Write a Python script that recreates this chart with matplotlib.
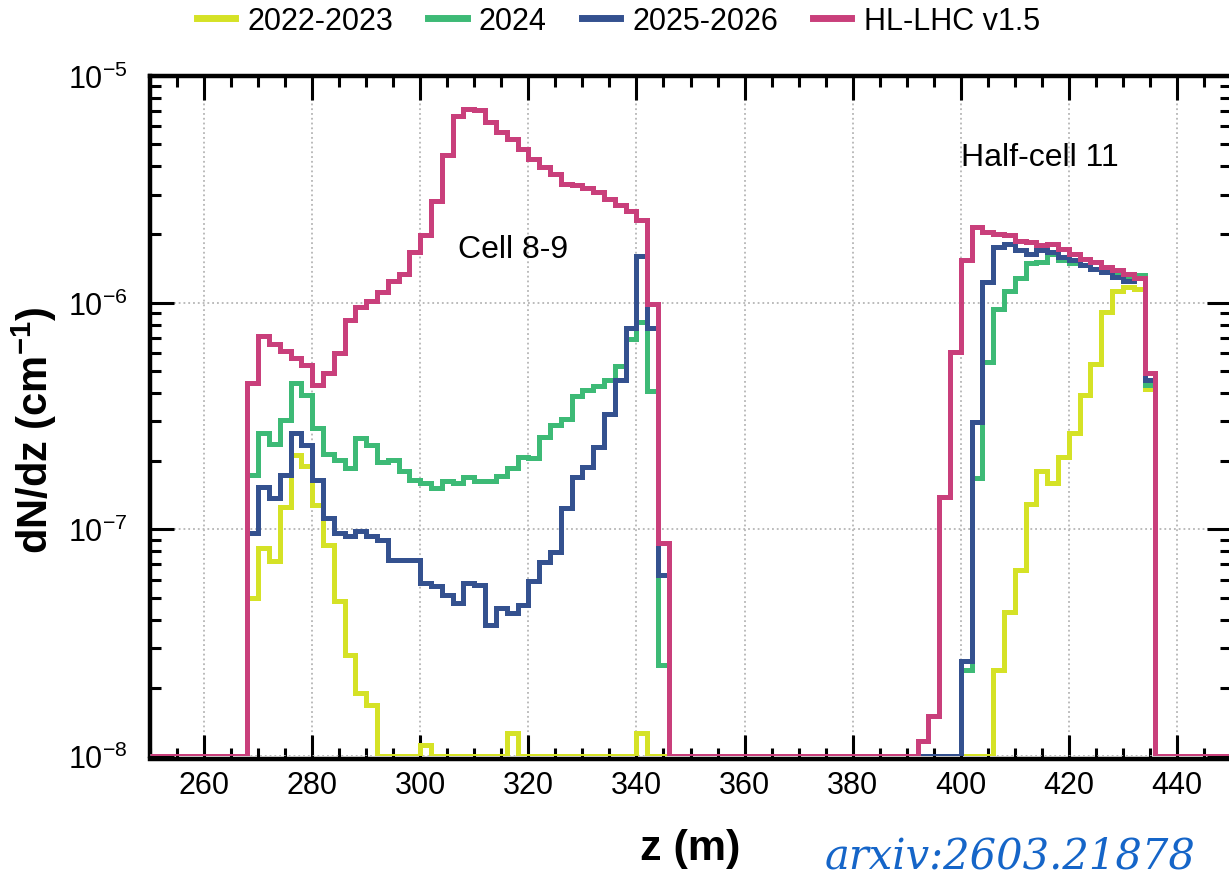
import numpy as np
import matplotlib
matplotlib.use("Agg")
import matplotlib.pyplot as plt
from matplotlib.ticker import MultipleLocator, LogLocator, NullFormatter

plt.rcParams['font.family'] = ['Liberation Sans', 'DejaVu Sans']
plt.rcParams['mathtext.fontset'] = 'custom'
plt.rcParams['mathtext.rm'] = 'Liberation Sans'
plt.rcParams['mathtext.bf'] = 'Liberation Sans:bold'

# histogram binning (2 m bins), empty bins are 0
bin_width = 2
z_lo, z_hi = 250, 450
y_floor = 1e-8

# values read per bin, first list starts at bin 268 m, second at the given start
left_start = 268
yellow_left = [4.97e-8, 8.25e-8, 7.22e-8, 1.26e-7, 2.12e-7, 1.91e-7, 1.28e-7, 8.5e-8,
               4.82e-8, 2.79e-8, 1.90e-8, 1.68e-8, 0, 0, 0, 0, 1.12e-8, 0, 0, 0, 0, 0,
               0, 0, 1.26e-8, 0, 0, 0, 0, 0, 0, 0, 0, 0, 0, 0, 1.26e-8, 0, 0]
green_left = [1.73e-7, 2.65e-7, 2.39e-7, 3.03e-7, 4.40e-7, 3.91e-7, 2.79e-7, 2.16e-7,
              2.02e-7, 1.86e-7, 2.52e-7, 2.35e-7, 1.99e-7, 2.02e-7, 1.80e-7, 1.65e-7,
              1.60e-7, 1.52e-7, 1.64e-7, 1.60e-7, 1.71e-7, 1.63e-7, 1.63e-7, 1.72e-7,
              1.86e-7, 2.09e-7, 2.06e-7, 2.56e-7, 2.88e-7, 3.08e-7, 3.87e-7, 4.11e-7,
              4.28e-7, 4.56e-7, 5.27e-7, 6.94e-7, 8.24e-7, 4.07e-7, 2.52e-8]
blue_left = [9.6e-8, 1.54e-7, 1.37e-7, 1.73e-7, 2.65e-7, 2.35e-7, 1.65e-7, 1.12e-7,
             9.6e-8, 9.3e-8, 9.8e-8, 9.3e-8, 8.97e-8, 7.33e-8, 7.33e-8, 7.33e-8,
             5.78e-8, 5.61e-8, 5.14e-8, 4.72e-8, 5.78e-8, 5.69e-8, 3.79e-8, 4.49e-8,
             4.27e-8, 4.65e-8, 5.89e-8, 7.21e-8, 7.98e-8, 1.24e-7, 1.71e-7, 1.89e-7,
             2.30e-7, 3.24e-7, 4.56e-7, 7.76e-7, 1.60e-6, 7.76e-7, 6.3e-8]
pink_left = [4.4e-7, 7.1e-7, 6.6e-7, 6.1e-7, 5.7e-7, 5.3e-7, 4.35e-7, 4.9e-7,
             6.0e-7, 8.4e-7, 9.6e-7, 1.02e-6, 1.11e-6, 1.24e-6, 1.34e-6, 1.67e-6,
             1.98e-6, 2.82e-6, 4.46e-6, 6.68e-6, 7.16e-6, 7.08e-6, 6.25e-6, 5.65e-6,
             5.27e-6, 4.77e-6, 4.31e-6, 3.96e-6, 3.70e-6, 3.34e-6, 3.29e-6, 3.20e-6,
             3.08e-6, 2.87e-6, 2.69e-6, 2.55e-6, 2.31e-6, 9.9e-7, 8.7e-8]

yellow_right_start = 406
yellow_right = [2.40e-8, 4.34e-8, 6.62e-8, 1.30e-7, 1.80e-7, 1.60e-7, 2.09e-7, 2.67e-7,
                3.91e-7, 5.38e-7, 9.1e-7, 1.13e-6, 1.17e-6, 1.15e-6, 4.18e-7]
green_right_start = 400
green_right = [2.40e-8, 1.68e-7, 5.48e-7, 9.41e-7, 1.13e-6, 1.28e-6, 1.49e-6, 1.51e-6,
               1.64e-6, 1.54e-6, 1.49e-6, 1.46e-6, 1.41e-6, 1.36e-6, 1.34e-6, 1.30e-6,
               1.32e-6, 4.32e-7]
blue_right_start = 400
blue_right = [2.62e-8, 2.98e-7, 1.23e-6, 1.76e-6, 1.82e-6, 1.70e-6, 1.64e-6, 1.70e-6,
              1.67e-6, 1.59e-6, 1.54e-6, 1.46e-6, 1.41e-6, 1.36e-6, 1.30e-6, 1.25e-6,
              1.28e-6, 4.55e-7]
pink_right_start = 392
pink_right = [1.16e-8, 1.5e-8, 1.39e-7, 6.07e-7, 1.54e-6, 2.16e-6, 2.05e-6, 2.01e-6,
              1.98e-6, 1.88e-6, 1.85e-6, 1.79e-6, 1.82e-6, 1.73e-6, 1.64e-6, 1.56e-6,
              1.51e-6, 1.44e-6, 1.39e-6, 1.34e-6, 1.28e-6, 4.87e-7]

labels = ['2022-2023', '2024', '2025-2026', 'HL-LHC v1.5']
colors = ['#d5e226', '#3dba76', '#34518f', '#c93f7b']

edges = np.arange(z_lo, z_hi + bin_width, bin_width)


def build(segments):
    v = np.zeros(len(edges) - 1)
    for start, vals in segments:
        i = (start - z_lo) // bin_width
        v[i:i + len(vals)] = vals
    return v


series = [
    build([(left_start, yellow_left), (yellow_right_start, yellow_right)]),
    build([(left_start, green_left), (green_right_start, green_right)]),
    build([(left_start, blue_left), (blue_right_start, blue_right)]),
    build([(left_start, pink_left), (pink_right_start, pink_right)]),
]

fig = plt.figure(figsize=(12.29, 8.79), dpi=100)
ax = fig.add_axes([150 / 1229, 1 - 757 / 879, 1081 / 1229, 680 / 879])

for vals, lab, col in zip(series, labels, colors):
    ax.stairs(np.maximum(vals, y_floor), edges, baseline=None,
              color=col, lw=3.6, label=lab, zorder=3)

ax.set_yscale('log')
ax.set_xlim(z_lo, z_hi)
ax.set_ylim(1e-8, 1e-5)

ax.xaxis.set_major_locator(MultipleLocator(20))
ax.xaxis.set_minor_locator(MultipleLocator(5))
ax.yaxis.set_major_locator(LogLocator(base=10))
ax.yaxis.set_minor_locator(LogLocator(base=10, subs=np.arange(2, 10)))
ax.yaxis.set_minor_formatter(NullFormatter())

ax.grid(True, which='major', color='#b5b5b5', linestyle=':', linewidth=1.3, zorder=0)
ax.tick_params(which='both', direction='in', top=True, right=True, width=2.2)
ax.tick_params(which='major', length=17, labelsize=22, pad=8)
ax.tick_params(which='minor', length=8)
ax.tick_params(axis='y', which='major', pad=16)
for sp in ax.spines.values():
    sp.set_linewidth(3.2)
ax.spines['bottom'].set_position(('outward', 2))

ax.set_xlabel('z (m)', fontsize=31, fontweight='bold', labelpad=20)
ax.set_ylabel(r'dN/dz (cm$^{\mathbf{-1}}$)', fontsize=30, fontweight='bold')
ax.yaxis.set_label_coords(-0.084, 0.48)

ax.text(307, 1.73e-6, 'Cell 8-9', fontsize=23, va='center', ha='left')
ax.text(400, 4.4e-6, 'Half-cell 11', fontsize=23, va='center', ha='left')

fig.legend(loc='center left', bbox_to_anchor=(197 / 1229, 1 - 22 / 879), ncol=4,
           frameon=False, fontsize=22, handlelength=1.25, handletextpad=0.4,
           columnspacing=1.15, borderpad=0, borderaxespad=0)
for h in fig.legends[0].get_lines():
    h.set_linewidth(5)

fig.text(1195 / 1229, 1 - 857 / 879, 'arxiv:2603.21878', fontsize=30, style='italic',
         family=['DejaVu Serif'], color='#1565c8', ha='right', va='center')

fig.savefig('out.png', dpi=100)
